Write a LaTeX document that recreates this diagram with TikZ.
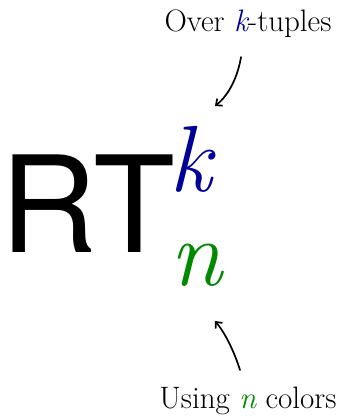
\documentclass[tikz,border=0pt]{standalone}
\usepackage{fontspec}
\setsansfont{TeX Gyre Heros}
\usetikzlibrary{arrows.meta,positioning}
\definecolor{tupleBlue}{HTML}{000099}
\definecolor{colorGreen}{HTML}{008A00}

\begin{document}
\begin{tikzpicture}[x=1pt,y=-1pt,>={Straight Barb[length=5pt,width=9pt]},line cap=round,line join=round]
\useasboundingbox[fill=white] (0,0) rectangle (343,416);
\tikzset{note/.style={anchor=base,inner sep=0pt,font=\fontsize{31}{34}\selectfont},
  bigsym/.style={anchor=base west,inner sep=0pt,font=\sffamily\fontsize{134}{134}\selectfont},
  idx/.style={anchor=base west,inner sep=0pt,font=\itshape\fontsize{94}{94}\selectfont},
  pointer/.style={draw=black,line width=1.7pt,->}}
% the symbol and its indices
\node[bigsym] (rt) at (0,252) {RT};
\node[idx,text=tupleBlue] (sup) at (169,191) {k};
\node[idx,text=colorGreen] (sub) at (170,285) {n};
% the two notes
\node[note] (over) at (248,31) {Over \textcolor{tupleBlue}{\itshape k}-tuples};
\node[note] (using) at (248,408) {Using \textcolor{colorGreen}{\itshape n} colors};
\coordinate (overTail) at (241,57); \coordinate (supHead) at (215,106);
\coordinate (usingTail) at (240,370); \coordinate (subHead) at (215,321);
\draw[pointer] (overTail) .. controls (238,76) and (229,95) .. (supHead);
\draw[pointer] (usingTail) .. controls (235,354) and (226,334) .. (subHead);
\end{tikzpicture}
\end{document}
